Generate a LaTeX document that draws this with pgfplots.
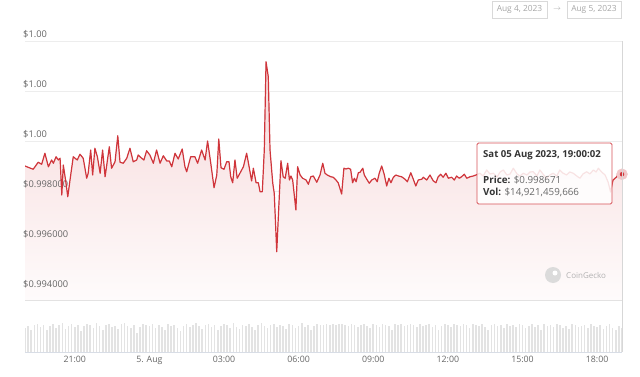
\documentclass[border=0pt]{standalone}
\usepackage{pgfplots}
\pgfplotsset{compat=1.18}
\usepgfplotslibrary{fillbetween}
\usepackage{pgfplotstable}
\usepackage{fontspec}
\setmainfont{Open Sans}
\definecolor{linered}{HTML}{D0353B}
\definecolor{labelgray}{HTML}{666666}
\definecolor{gridgray}{HTML}{EDEDED}
\definecolor{volgray}{HTML}{E3E3E3}
\definecolor{basegray}{HTML}{D8DDE6}
\definecolor{tipdark}{HTML}{333333}
\definecolor{tipval}{HTML}{6A6A6A}

\pgfplotstableread{
h p
19.00 0.99900
19.20 0.99892
19.33 0.99887
19.53 0.99915
19.67 0.99907
19.80 0.99951
19.94 0.99897
20.07 0.99924
20.14 0.99911
20.25 0.99937
20.34 0.99924
20.41 0.99931
20.48 0.99784
20.54 0.99904
20.64 0.99837
20.72 0.99777
20.81 0.99844
20.94 0.99937
21.10 0.99924
21.21 0.99947
21.34 0.99931
21.48 0.99851
21.54 0.99871
21.64 0.99964
21.72 0.99864
21.81 0.99971
21.91 0.99937
22.02 0.99871
22.12 0.99964
22.22 0.99857
22.39 0.99977
22.48 0.99891
22.62 0.99917
22.73 1.00021
22.82 0.99915
22.95 0.99911
23.09 0.99931
23.22 0.99971
23.35 0.99917
23.49 0.99924
23.55 0.99944
23.69 0.99931
23.78 0.99924
23.89 0.99961
24.02 0.99944
24.16 0.99911
24.29 0.99964
24.43 0.99911
24.56 0.99941
24.70 0.99920
24.80 0.99920
24.90 0.99897
25.03 0.99951
25.16 0.99928
25.32 0.99968
25.43 0.99897
25.50 0.99877
25.66 0.99937
25.83 0.99937
25.94 0.99911
26.10 0.99964
26.24 0.99924
26.34 1.00000
26.46 0.99917
26.60 0.99813
26.71 0.99864
26.79 1.00008
26.88 0.99893
27.00 0.99887
27.11 0.99917
27.20 0.99917
27.27 0.99857
27.35 0.99833
27.44 0.99924
27.53 0.99851
27.64 0.99871
27.78 0.99897
27.91 0.99951
28.02 0.99891
28.11 0.99840
28.18 0.99891
28.29 0.99833
28.38 0.99833
28.45 0.99797
28.54 0.99797
28.62 0.99964
28.69 1.00317
28.78 1.00257
28.85 0.99964
28.96 0.99831
29.02 0.99791
29.12 0.99557
29.21 0.99751
29.29 0.99921
29.38 0.99857
29.46 0.99851
29.56 0.99911
29.63 0.99844
29.69 0.99860
29.76 0.99844
29.89 0.99724
29.96 0.99897
30.06 0.99864
30.16 0.99851
30.30 0.99844
30.39 0.99827
30.49 0.99857
30.59 0.99860
30.73 0.99835
30.86 0.99864
30.97 0.99911
31.06 0.99871
31.15 0.99864
31.29 0.99857
31.39 0.99855
31.50 0.99844
31.59 0.99833
31.73 0.99788
31.82 0.99891
31.90 0.99888
32.00 0.99891
32.09 0.99887
32.17 0.99833
32.24 0.99851
32.31 0.99837
32.40 0.99873
32.47 0.99875
32.58 0.99891
32.64 0.99864
32.74 0.99847
32.84 0.99831
32.94 0.99844
33.07 0.99851
33.16 0.99837
33.24 0.99871
33.34 0.99900
33.44 0.99867
33.54 0.99820
33.63 0.99851
33.71 0.99833
33.81 0.99855
33.91 0.99864
34.01 0.99860
34.14 0.99857
34.28 0.99847
34.37 0.99837
34.51 0.99873
34.61 0.99847
34.71 0.99820
34.81 0.99844
34.95 0.99847
35.01 0.99855
35.15 0.99844
35.28 0.99864
35.41 0.99841
35.52 0.99833
35.61 0.99857
35.71 0.99867
35.81 0.99855
35.92 0.99871
36.02 0.99851
36.15 0.99855
36.26 0.99844
36.35 0.99860
36.46 0.99851
36.55 0.99857
36.66 0.99867
36.76 0.99851
36.89 0.99857
37.02 0.99860
37.13 0.99864
37.29 0.99871
37.42 0.99860
37.56 0.99884
37.69 0.99868
37.83 0.99871
37.98 0.99856
38.10 0.99876
38.23 0.99884
38.37 0.99864
38.50 0.99868
38.63 0.99891
38.78 0.99868
38.90 0.99860
39.03 0.99871
39.18 0.99864
39.30 0.99876
39.43 0.99877
39.58 0.99860
39.70 0.99884
39.82 0.99868
39.97 0.99851
40.10 0.99864
40.23 0.99871
40.38 0.99860
40.50 0.99884
40.62 0.99872
40.77 0.99864
40.90 0.99876
41.04 0.99871
41.18 0.99860
41.31 0.99851
41.43 0.99868
41.58 0.99877
41.71 0.99868
41.85 0.99884
41.96 0.99876
42.05 0.99891
42.18 0.99876
42.32 0.99864
42.44 0.99836
42.54 0.99796
42.64 0.99844
42.79 0.99857
42.88 0.99878
43.00 0.998671
}\pricedata

\begin{document}
\begin{tikzpicture}[x=1pt,y=1pt]
\path (0,0) rectangle (640,376);

% price pane
\begin{axis}[
  at={(25pt,76pt)}, anchor=south west,
  scale only axis, width=597pt, height=259pt,
  xmin=19, xmax=43, ymin=0.99364, ymax=1.004,
  axis line style={draw=none},
  xtick=\empty,
  ytick={0.994,0.996,0.998,1.000,1.002,1.004},
  yticklabels={\$0.994000,\$0.996000,\$0.998000,\$1.00,\$1.00,\$1.00},
  ymajorgrids, grid style={draw=gridgray, line width=0.7pt},
  major tick length=0pt,
  clip marker paths=false,
  yticklabel style={anchor=south west, inner sep=0pt, xshift=-2pt, yshift=2.5pt,
    font=\fontsize{9.3}{10}\selectfont, text=labelgray},
]
\addplot[draw=none, name path=pr, forget plot] table[x=h,y=p]{\pricedata};
\addplot[draw=none, name path=base, forget plot] coordinates {(19,0.99364) (43,0.99364)};
\addplot[draw=none, top color=linered!19, bottom color=linered!2] fill between[of=pr and base];
\addplot[linered, line width=1.2pt, line join=round] table[x=h,y=p]{\pricedata};
\addplot[only marks, mark=*, mark size=5.5pt, mark options={fill=linered!28, draw=linered!28}] coordinates {(43,0.998671)};
\addplot[only marks, mark=*, mark size=2pt, mark options={fill=linered, draw=linered}] coordinates {(43,0.998671)};
\end{axis}

% volume pane
\begin{axis}[
  at={(25pt,24pt)}, anchor=south west,
  scale only axis, width=597pt, height=30pt,
  xmin=19, xmax=43, ymin=0, ymax=30,
  axis y line=none, axis x line*=bottom,
  x axis line style={draw=basegray, line width=0.7pt},
  xtick={21,24,27,30,33,36,39,42},
  xticklabels={21:00,5. Aug,03:00,06:00,09:00,12:00,15:00,18:00},
  major tick length=0pt,
  xticklabel style={font=\fontsize{8.8}{10}\selectfont, text=labelgray, yshift=-1pt},
]
\addplot[ycomb, draw=volgray, line width=1.6pt] table[x expr={19+\coordindex*0.125}, y index=0, header=false, row sep=\\] {
24\\26\\22\\27\\28\\25\\27\\22\\26\\28\\24\\27\\29\\23\\26\\28\\25\\27\\21\\26\\
28\\27\\24\\29\\26\\22\\27\\28\\25\\26\\23\\28\\29\\26\\24\\27\\19\\25\\28\\27\\
26\\28\\24\\27\\25\\22\\28\\26\\27\\24\\21\\26\\28\\25\\27\\29\\26\\23\\27\\28\\
25\\27\\22\\26\\28\\27\\24\\29\\25\\23\\27\\26\\28\\25\\22\\27\\29\\26\\24\\27\\
28\\25\\27\\26\\23\\28\\27\\24\\26\\29\\25\\27\\22\\26\\28\\27\\27\\28\\27\\28\\
27\\28\\28\\27\\26\\28\\27\\25\\27\\28\\26\\24\\28\\27\\25\\28\\27\\26\\22\\28\\
27\\28\\26\\27\\28\\27\\25\\28\\26\\27\\28\\25\\27\\22\\26\\28\\27\\25\\28\\27\\
26\\28\\27\\24\\28\\27\\26\\28\\25\\22\\27\\28\\26\\27\\24\\28\\26\\27\\25\\28\\
27\\24\\26\\28\\25\\27\\22\\28\\26\\27\\25\\28\\27\\24\\26\\23\\28\\27\\25\\26\\
27\\24\\28\\26\\25\\27\\23\\26\\28\\24\\22\\26\\24\\
};
\end{axis}

% crosshair line
\draw[gridgray!80!gray, line width=0.6pt] (622,24) -- (622,335);

% tooltip
\draw[linered!85, fill=white, fill opacity=0.86, rounded corners=1.5pt, line width=0.8pt] (477,172) rectangle (612,233);
\node[anchor=west, inner sep=0pt, font=\bfseries\fontsize{9.6}{10}\selectfont, text=tipdark] at (483,221) {Sat 05 Aug 2023, 19:00:02};
\node[anchor=west, inner sep=0pt, font=\fontsize{9.8}{10}\selectfont, text=tipval] at (483,196) {\textcolor{tipdark}{\bfseries Price:} \$0.998671};
\node[anchor=west, inner sep=0pt, font=\fontsize{9.8}{10}\selectfont, text=tipval] at (483,184) {\textcolor{tipdark}{\bfseries Vol:} \$14,921,459,666};

% watermark
\fill[gray!28] (553,101) circle (8);
\fill[white] (555,103) circle (2.5);
\node[anchor=west, inner sep=0pt, font=\fontsize{8}{9}\selectfont, text=gray!60] at (566,101) {CoinGecko};

% date range boxes
\draw[gray!30, line width=0.6pt] (492,358) rectangle (547,375);
\node[font=\fontsize{8.4}{9}\selectfont, text=gray!70, inner sep=0pt] at (519.5,366.5) {Aug 4, 2023};
\node[font=\fontsize{7}{8}\selectfont, text=gray!70, inner sep=0pt] at (557,366.5) {$\rightarrow$};
\draw[gray!30, line width=0.6pt] (567,358) rectangle (621,375);
\node[font=\fontsize{8.4}{9}\selectfont, text=gray!70, inner sep=0pt] at (594,366.5) {Aug 5, 2023};
\end{tikzpicture}
\end{document}
